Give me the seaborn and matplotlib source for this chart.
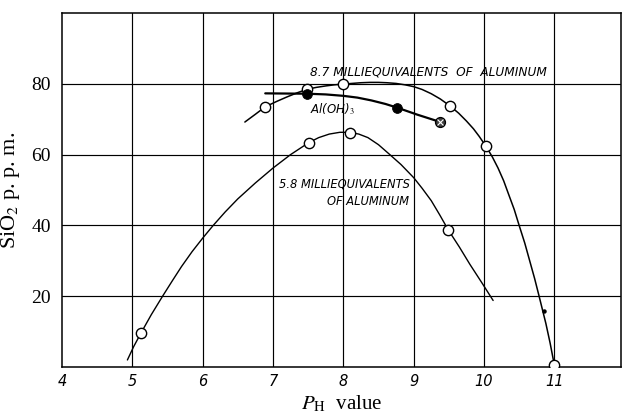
import matplotlib
matplotlib.use("Agg")
import matplotlib.pyplot as plt
import seaborn as sns
import pandas as pd

# ---- data ----
# 8.7 milliequivalents of aluminum: measured points (open circles)
al87_ph = [6.89, 7.49, 7.99, 9.52, 10.03, 11.0]
al87_si = [73.5, 78.5, 79.9, 73.7, 62.3, 0.6]
# hand-drawn curve through them
al87_curve_ph = [6.60, 6.75, 6.89, 7.05, 7.20, 7.35, 7.49, 7.62, 7.75, 7.87, 7.99, 8.12,
                 8.25, 8.38, 8.50, 8.62, 8.75, 8.88, 9.00, 9.12, 9.25, 9.38, 9.52, 9.64,
                 9.75, 9.85, 9.93, 10.03, 10.12, 10.20, 10.28, 10.35, 10.43, 10.50,
                 10.58, 10.65, 10.72, 10.78, 10.88, 10.94, 11.0]
al87_curve_si = [69.2, 71.4, 73.5, 75.0, 76.3, 77.5, 78.5, 79.0, 79.4, 79.7, 79.9, 80.1,
                 80.3, 80.4, 80.4, 80.3, 80.1, 79.7, 79.2, 78.4, 77.2, 75.7, 73.7, 71.7,
                 69.5, 67.3, 65.2, 62.3, 59.3, 56.2, 52.6, 48.8, 44.5, 40.0,
                 35.0, 30.0, 25.0, 20.3, 12.3, 6.8, 0.6]

# 5.8 milliequivalents of aluminum
al58_ph = [5.12, 7.51, 8.09, 9.49]
al58_si = [9.5, 63.4, 66.2, 38.8]
al58_curve_ph = [4.93, 5.02, 5.12, 5.27, 5.43, 5.57, 5.70, 5.85, 6.00, 6.15, 6.32, 6.50,
                 6.75, 7.00, 7.25, 7.51, 7.65, 7.80, 7.95, 8.09, 8.22, 8.35, 8.50,
                 8.65, 8.82, 9.00, 9.12, 9.25, 9.37, 9.49, 9.65, 9.80, 9.97, 10.13]
al58_curve_si = [2.0, 5.8, 9.5, 14.8, 20.0, 24.4, 28.4, 32.6, 36.4, 40.0, 43.8, 47.5,
                 52.0, 56.2, 60.0, 63.4, 64.8, 65.8, 66.3, 66.3, 65.8, 64.8, 62.8,
                 60.2, 57.2, 53.5, 50.5, 47.0, 43.0, 38.8, 33.9, 29.0, 23.8, 18.8]

# Al(OH)3 (filled circles)
aloh_ph = [7.49, 8.76, 9.38]
aloh_si = [77.2, 73.3, 69.2]
aloh_curve_ph = [6.89, 7.49, 7.75, 8.00, 8.20, 8.40, 8.60, 8.76, 9.05, 9.38]
aloh_curve_si = [77.3, 77.2, 77.0, 76.6, 76.1, 75.3, 74.3, 73.3, 71.3, 69.2]

x_ticks = [4, 5, 6, 7, 8, 9, 10, 11]
y_ticks = [20, 40, 60, 80]

# ---- drawing ----
sns.set_theme(style="white")
plt.rcParams['font.family'] = ['DejaVu Sans']
plt.rcParams['mathtext.fontset'] = 'stix'
plt.rcParams['text.color'] = 'black'
plt.rcParams['axes.labelcolor'] = 'black'
plt.rcParams['xtick.color'] = 'black'
plt.rcParams['ytick.color'] = 'black'

fig = plt.figure(figsize=(6.23, 4.19), dpi=100)
ax = fig.add_axes([0.0995, 0.124, 0.8975, 0.845])

for v in x_ticks[1:]:
    ax.axvline(v, color="black", lw=0.85, zorder=1)
for v in y_ticks:
    ax.axhline(v, color="black", lw=0.85, zorder=1)

c87 = pd.DataFrame({"ph": al87_curve_ph, "si": al87_curve_si})
c58 = pd.DataFrame({"ph": al58_curve_ph, "si": al58_curve_si})
coh = pd.DataFrame({"ph": aloh_curve_ph, "si": aloh_curve_si})
sns.lineplot(data=c87, x="ph", y="si", sort=False, color="black", lw=1.1, ax=ax, zorder=3)
sns.lineplot(data=c58, x="ph", y="si", sort=False, color="black", lw=1.0, ax=ax, zorder=3)
sns.lineplot(data=coh, x="ph", y="si", sort=False, color="black", lw=1.6, ax=ax, zorder=3)

p87 = pd.DataFrame({"ph": al87_ph, "si": al87_si})
p58 = pd.DataFrame({"ph": al58_ph, "si": al58_si})
poh = pd.DataFrame({"ph": aloh_ph[:2], "si": aloh_si[:2]})
pox = pd.DataFrame({"ph": aloh_ph[2:], "si": aloh_si[2:]})
sns.scatterplot(data=p87, x="ph", y="si", s=55, facecolor="white", edgecolor="black",
                linewidth=1.0, ax=ax, zorder=5)
sns.scatterplot(data=p58, x="ph", y="si", s=55, facecolor="white", edgecolor="black",
                linewidth=1.0, ax=ax, zorder=5)
sns.scatterplot(data=poh, x="ph", y="si", s=50, color="black", edgecolor="black",
                ax=ax, zorder=6)
sns.scatterplot(data=pox, x="ph", y="si", s=50, color="#444444", edgecolor="black",
                linewidth=1.0, ax=ax, zorder=6)
sns.scatterplot(data=pox, x="ph", y="si", s=18, marker="x", color="white",
                linewidth=0.8, ax=ax, zorder=7)
# small dot on the steep branch
ax.plot([10.85], [15.7], marker="o", ms=2.2, color="black", zorder=4)

ax.text(7.53, 83.4, "8.7 MILLIEQUIVALENTS  OF  ALUMINUM", ha="left", va="center",
        fontsize=8.7, style="italic", color="black", zorder=8)
ax.text(7.52, 72.8, "Al(OH)$_3$", ha="left", va="center", fontsize=8.5, style="italic",
        color="black", zorder=8)
ax.text(8.94, 51.6, "5.8 MILLIEQUIVALENTS", ha="right", va="center", fontsize=8.3,
        style="italic", color="black", zorder=8)
ax.text(8.94, 46.8, "OF ALUMINUM", ha="right", va="center", fontsize=8.3,
        style="italic", color="black", zorder=8)

ax.set_xlim(4, 11.95)
ax.set_ylim(0, 100)
ax.set_xticks(x_ticks)
ax.set_xticklabels([str(t) for t in x_ticks], style="italic", fontsize=10.5)
ax.set_yticks(y_ticks)
ax.set_yticklabels([str(t) for t in y_ticks], family="Liberation Serif", fontsize=14)
ax.tick_params(axis="both", length=0, pad=5, labelcolor="black")
ax.tick_params(axis="y", pad=8)

ax.set_xlabel(r"$P_{\mathrm{H}}$  value", family="Liberation Serif", fontsize=15,
              labelpad=3, color="black")
ax.set_ylabel(r"SiO$_2$ p. p. m.", family="Liberation Serif", fontsize=16,
              labelpad=7, color="black")

for s in ax.spines.values():
    s.set_color("black")
    s.set_linewidth(1.1)

fig.savefig("out.png", dpi=100)
